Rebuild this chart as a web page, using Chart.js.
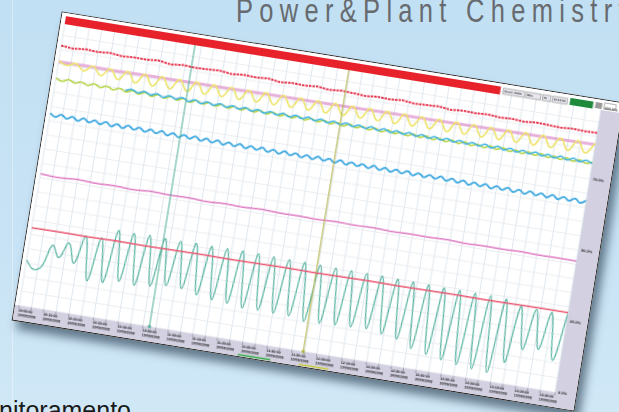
<!DOCTYPE html>
<html><head><meta charset="utf-8">
<script src="https://cdn.jsdelivr.net/npm/chart.js@4.4.1/dist/chart.umd.min.js"></script>
<style>
html,body{margin:0;padding:0;width:619px;height:412px;overflow:hidden;}
body{background:linear-gradient(180deg,#c2e0f3 0%,#c8e3f5 60%,#d0e8f6 100%);position:relative;font-family:"Liberation Sans",Arial,sans-serif;}
#title{position:absolute;left:236px;top:-7px;line-height:1;font-family:"Liberation Sans",Arial,sans-serif;font-size:34px;letter-spacing:8.4px;color:#676b70;white-space:nowrap;transform:scaleX(0.75);transform-origin:0 0;}
#foot{position:absolute;left:-1px;top:398px;line-height:1;font-size:25px;color:#1a1a1a;white-space:nowrap;}
#fold{position:absolute;left:12px;top:0;width:1px;height:412px;background:rgba(255,255,255,0.35);}
#panel{position:absolute;left:33px;top:55px;width:570px;height:313px;box-sizing:border-box;border:1px solid #2a2a2a;background:#fff;transform:rotate(9.2deg);transform-origin:50% 50%;box-shadow:6px 8px 10px rgba(30,50,70,0.6);}
canvas{display:block;}
</style></head><body>
<div id="fold"></div>
<div id="title">Power&amp;Plant Chemistry</div>
<div id="foot">nitoramento</div>
<div id="panel"><canvas id="c" width="568" height="311" style="width:568px;height:311px"></canvas></div>
<script>
// ---- data ----
const xTickTimes = ['10:00:00','10:10:00','10:20:00','10:30:00','10:40:00','10:50:00','11:00:00','11:10:00','11:20:00','11:30:00','11:40:00','11:50:00','12:00:00','12:10:00','12:20:00','12:30:00','12:40:00','12:50:00','13:00:00','13:10:00','13:20:00','13:30:00'];
const tickDate = '10/09/2008';
const yTickLabels = ['0.0%','25.0%','50.0%','75.0%','100.0%'];
const cursorX = [52.5, 114.5];
const greenRange = [89, 102];
const yellowRange = [113.5, 125.5];

const redTop = [91.4,91.0,91.5,91.2,91.6,91.1,91.4,91.3,91.7,91.0,91.5,91.2,91.4,91.6,91.1,91.5,91.3,91.6,91.0,91.4,91.2,91.6,91.1,91.5,91.3,91.0,91.4,91.2,91.6,91.1,91.3,91.5,91.0,91.4,91.2,91.5,91.1,91.3,91.0,91.4,91.2,91.0,91.3,91.1,91.2];
const pinkTop = [85.7,85.8,85.7,85.9,85.9,86.0,86.0,86.1,86.2,86.2,86.3,86.4,86.5,86.5,86.6,86.7,86.8,86.9,87.0,87.1];
const yellow = [86.0,84.9,86.0,84.0,86.1,83.3,86.1,82.9,86.2,82.7,86.2,82.6,86.3,82.6,86.3,82.7,86.4,82.7,86.4,82.8,
  86.5,82.8,86.5,82.9,86.6,82.9,86.6,83.0,86.7,83.0,86.7,83.0,86.8,83.1,86.8,83.1,86.9,83.2,86.9,83.2,
  87.0,83.3,87.0,83.3,87.1,83.3,87.1,83.4,87.2,83.4,87.2,83.5,87.3,83.5,87.3,83.5,87.4,83.6,87.4,83.6,87.5,83.7,87.6];
const green = [80.0,79.2,80.1,79.3,80.0,79.2,80.1,79.2,80.0,79.1,80.0,79.1,79.9,79.1,80.0,79.0,79.9,79.1,80.0,79.1,
  80.0,79.1,80.1,79.2,80.0,79.2,80.1,79.2,80.1,79.3,80.2,79.3,80.2,79.3,80.3,79.4,80.2,79.4,80.3,79.4,
  80.3,79.5,80.4,79.5,80.4,79.5,80.5,79.6,80.4,79.6,80.5,79.6,80.6,79.7,80.5,79.7,80.6,79.8,80.7,79.8,
  80.6,79.8,80.7,79.9,80.8,79.9,80.7,79.9,80.8,80.0,80.9,80.0,80.8,80.0,80.9,80.1,81.0,80.1,80.9,80.1,
  81.0,80.2,81.0,80.2,80.9];
const cyan = [79.5,80.3,79.4,80.3,79.4,80.2,79.3,80.2,79.4,80.3,79.3,80.2,79.3,80.2,79.4,80.3,79.4,80.3,79.5,80.4,
  79.5,80.4,79.5,80.4,79.6,80.5,79.6,80.5,79.7,80.6,79.7,80.6,79.7,80.6,79.8,80.7,79.8,80.7,79.9,80.8,
  79.9,80.8,79.9,80.8,80.0,80.9,80.0,80.9,80.0,80.9,80.1,81.0,80.1,81.0,80.1,81.0,80.2,81.1,80.2,81.1,
  80.2,81.1,80.2,81.1,80.3,81.2,80.3,81.1,80.3,81.2,80.3,81.2,80.4,81.2,80.4];
const blueLow = [67.6,66.6,67.7,66.6,67.6,66.5,67.7,66.6,67.6,66.6,67.7,66.5,67.6,66.5,67.7,66.6,67.6,66.5,67.6,66.6,
  67.7,66.5,67.6,66.5,67.6,66.6,67.7,66.5,67.6,66.5,67.6,66.4,67.5,66.5,67.6,66.4,67.5,66.5,67.6,66.4,
  67.5,66.4,67.6,66.5,67.5,66.4,67.5,66.4,67.6,66.5,67.5,66.4,67.6,66.4,67.5,66.5,67.5,66.4,67.6,66.4,
  67.5,66.4,67.5,66.5,67.6,66.4,67.5,66.4,67.5,66.5,67.6,66.4,67.5,66.4,67.5,66.3,67.4,66.4,67.5,66.3,
  67.4,66.4,67.5,66.3,67.4,66.3,67.5,66.4,67.4,66.3,67.5,66.3,67.4,66.4,67.5,66.3,67.4];
const magenta = [46.3,46.0,46.4,46.1,46.3,46.0,46.4,46.2,46.3,46.0,46.3,46.1,46.4,46.1,46.2,46.0,46.3,46.1,46.3,46.0,46.2,46.1,46.3,46.0,46.2,46.1,46.3,46.1,46.2,46.1];
const redLow = [27.3,27.4,27.3,27.5,27.4,27.5,27.6,27.5,27.6,27.7,27.6,27.7,27.8,27.7,27.8,27.9,27.8,27.9,28.0,28.0];
const teal = [16.0,13.2,14.5,22.5,18.6,24.2,17.5,27.5,12.2,27.8,12.5,31.2,13.8,31.0,13.3,31.2,13.9,31.0,15.0,30.9,
  14.8,31.1,13.5,30.9,12.6,31.0,12.3,31.1,11.5,31.0,11.7,30.8,11.5,30.7,11.4,30.6,10.4,30.5,10.6,30.4,
  10.9,30.3,11.1,30.2,11.3,30.2,10.4,30.0,9.4,29.9,7.0,29.8,5.8,29.6,4.8,29.6,4.0,29.5,3.4,29.5,
  3.0,29.2,7.4,27.5,12.8,27.3,13.7,27.1,10.8,27.6];

// ---- helpers ----
const X_MIN = 0, X_MAX = 216;
function pts(vals, x0, x1){ const n = vals.length; return vals.map((v,i)=>({x: x0 + (x1-x0)*i/(n-1), y: v})); }
function line(vals, color, width, extra){ return Object.assign({data: pts(vals, X_MIN, X_MAX), borderColor: color, borderWidth: width, pointRadius: 0, tension: 0.4, fill: false}, extra||{}); }
function cursor(x, color){ return {data: [{x:x,y:0},{x:x,y:100}], borderColor: color, borderWidth: 1, pointRadius: [1.6,0], pointBackgroundColor: color, pointBorderWidth: 0, clip: false, tension: 0}; }

const LAV = '#d2d0e1';
const panelPlugin = {
  id: 'panel',
  beforeDraw(chart){
    const {ctx, chartArea: a, width: w, height: h} = chart;
    ctx.save();
    ctx.fillStyle = '#ffffff'; ctx.fillRect(0,0,w,h);
    ctx.fillStyle = LAV;
    ctx.fillRect(0, a.bottom, w, h - a.bottom);
    ctx.fillRect(a.right, a.top + 2, w - a.right, a.bottom - a.top);
    ctx.restore();
  },
  afterDraw(chart){
    const {ctx, chartArea: a, width: w, scales} = chart;
    const xs = scales.x;
    ctx.save();
    ctx.fillStyle = '#e8222b';
    ctx.fillRect(a.left, 3, w*0.783 - a.left, 8);
    const boxes = [[0.788,0.826,'Zoom: 100%'],[0.829,0.855,'Mês'],[0.858,0.873,'1h'],[0.876,0.902,'10:10:00']];
    ctx.font = 'bold 3px "Liberation Sans"'; ctx.textBaseline = 'middle';
    boxes.forEach(b=>{
      ctx.fillStyle = '#e6e6ee'; ctx.fillRect(w*b[0], 4, w*(b[1]-b[0]), 6);
      ctx.strokeStyle = '#777'; ctx.lineWidth = 0.5; ctx.strokeRect(w*b[0], 4, w*(b[1]-b[0]), 6);
      ctx.fillStyle = '#333'; ctx.fillText(b[2], w*b[0]+1, 7);
    });
    ctx.fillStyle = '#1f8a3b'; ctx.fillRect(w*0.907, 3, w*0.041, 7);
    ctx.fillStyle = '#999'; ctx.fillRect(w*0.952, 3, w*0.012, 6);
    ctx.strokeStyle = '#666'; ctx.strokeRect(w*0.968, 2.5, w*0.02, 6);
    const yb = chart.height - 1.5;
    ctx.lineWidth = 1.4;
    ctx.strokeStyle = '#2fae3e';
    ctx.beginPath(); ctx.moveTo(xs.getPixelForValue(greenRange[0]), yb); ctx.lineTo(xs.getPixelForValue(greenRange[1]), yb); ctx.stroke();
    ctx.strokeStyle = '#c7cc3a';
    ctx.beginPath(); ctx.moveTo(xs.getPixelForValue(yellowRange[0]), yb); ctx.lineTo(xs.getPixelForValue(yellowRange[1]), yb); ctx.stroke();
    ctx.restore();
  }
};

new Chart(document.getElementById('c'), {
  type: 'line',
  data: { datasets: [
    line(redLow, '#ea5872', 1.5, {tension:0}),
    cursor(cursorX[0], '#4fae96'),
    cursor(cursorX[1], '#b4b444'),
    line(teal, '#55b3a0', 1.2),
    line(magenta, '#df7cc3', 1.5),
    line(blueLow, '#3ea8e0', 1.8),
    line(cyan, '#3cb2e2', 1.5, {data: pts(cyan, 28, X_MAX)}),
    line(green, '#b2d33f', 1.5),
    line(yellow, '#eee46a', 1.6),
    line(pinkTop, 'rgba(222,150,205,0.75)', 3, {tension:0}),
    line(redTop, '#e42a44', 1.9, {tension:0, borderDash:[2.5,1]})
  ]},
  options: {
    responsive: false, animation: false, devicePixelRatio: 2,
    layout: { padding: {top: 8, left: 0, right: 0, bottom: 0} },
    plugins: { legend: {display:false}, tooltip: {enabled:false} },
    scales: {
      x: { type:'linear', min: X_MIN, max: X_MAX,
        afterFit(s){ s.height = 15; },
        border: {display:false},
        grid: { color:'#d9e1ea', lineWidth:0.8, tickLength:3, tickColor:'#8c8c9c', drawTicks:true },
        ticks: { stepSize:5, autoSkip:false, maxRotation:0, minRotation:0, align:'start', padding:0, color:'#1d1d1d',
          font:{size:3.6, weight:'bold', family:'"Liberation Sans", Arial'},
          callback(v){ if (v % 10 !== 0) return ''; const k = v/10; return xTickTimes[k] ? [xTickTimes[k], tickDate] : ''; } }
      },
      y: { position:'right', min:0, max:100,
        afterFit(s){ s.width = 21; },
        border: {display:false},
        grid: { color:'#e4e8ee', lineWidth:0.8, drawTicks:false },
        ticks: { stepSize:5, autoSkip:false, padding:3, color:'#2a2a2a',
          font:{size:4, weight:'bold', family:'"Liberation Sans", Arial'},
          callback(v){ return v % 25 === 0 ? yTickLabels[v/25] : ''; } }
      }
    }
  },
  plugins: [panelPlugin]
});
</script>
</body></html>
